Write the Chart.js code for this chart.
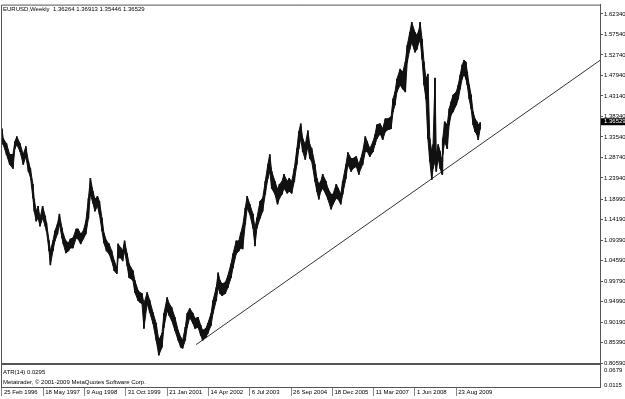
<!DOCTYPE html>
<html>
<head>
<meta charset="utf-8">
<script src="https://cdn.jsdelivr.net/npm/chart.js@4/dist/chart.umd.min.js"></script>
<style>
html,body{margin:0;padding:0;background:#fff;}
canvas{display:block;}
</style>
</head>
<body>
<canvas id="c" width="625" height="399"></canvas>
<script>
// ---- data (weekly bar index since 25 Feb 1996, high/low prices) ----
const weeks = [0,2,7,12,17,20,23,28,33,37,41,44,48,50,53,56,59,63,67,69,73,75,79,82,86,89,93,95,99,103,106,110,115,118,122,126,130,134,137,141,144,148,151,155,158,162,166,170,174,178,180,184,187,190,194,197,200,203,206,211,214,217,220,225,229,234,239,243,248,251,256,259,263,268,273,277,280,284,287,291,296,299,304,308,311,316,319,324,327,332,335,338,341,346,350,355,358,363,367,370,373,377,380,384,389,392,395,400,404,408,412,415,418,423,427,430,434,437,442,445,449,453,457,460,463,466,470,474,477,480,485,488,491,494,497,502,505,510,513,518,521,525,528,533,536,541,544,549,553,556,559,563,566,570,575,578,581,586,590,594,598,603,606,609,612,617,621,625,628,632,635,640,643,646,648,651,654,657,660,663,666,668,671,673,676,679,682,683,686,690,693,696,699,704,707,710,713,716,719,721,724,727,730,733,736,738,741];
const highs = [1.3547,1.3315,1.3199,1.2943,1.2943,1.3245,1.3361,1.3199,1.2943,1.3129,1.2780,1.2617,1.2245,1.1896,1.1617,1.1733,1.1454,1.1733,1.1501,1.1338,1.0920,1.0687,1.0920,1.1152,1.1315,1.1547,1.1222,1.1082,1.0920,1.0873,1.0966,1.0989,1.1199,1.1199,1.1082,1.1152,1.1385,1.1919,1.2385,1.2082,1.1896,1.1966,1.1850,1.1454,1.1105,1.0920,1.0850,1.0687,1.0454,1.0291,1.0850,1.0757,1.0687,1.0920,1.0617,1.0385,1.0291,1.0222,0.9989,0.9757,0.9710,0.9687,0.9454,0.9710,0.9524,0.9245,0.8989,0.8594,0.8757,0.9222,0.9594,0.9454,0.9361,0.9129,0.8826,0.8664,0.8594,0.8896,0.9222,0.9338,0.9222,0.9106,0.9129,0.8943,0.8826,0.8873,0.8989,0.9222,0.9524,0.9826,1.0175,0.9989,0.9919,0.9943,1.0105,1.0385,1.0617,1.0920,1.0920,1.1105,1.1268,1.1687,1.1966,1.1780,1.1547,1.1222,1.1454,1.1850,1.1919,1.2315,1.2710,1.2943,1.2548,1.2315,1.2129,1.2245,1.2315,1.2478,1.2315,1.2385,1.2315,1.2617,1.3082,1.3478,1.3664,1.3315,1.3175,1.3501,1.3175,1.3082,1.2710,1.2385,1.2245,1.2315,1.2478,1.2315,1.2152,1.2013,1.2013,1.2245,1.2152,1.2013,1.2315,1.2710,1.2989,1.2850,1.2850,1.2896,1.2710,1.2850,1.3013,1.3361,1.3245,1.3082,1.3245,1.3408,1.3640,1.3664,1.3547,1.3780,1.3780,1.3826,1.4245,1.4408,1.4710,1.4943,1.4873,1.5106,1.5501,1.5803,1.6036,1.5803,1.5734,1.5850,1.6036,1.5640,1.5106,1.4710,1.4826,1.3315,1.3013,1.3175,1.4733,1.2943,1.3175,1.3013,1.2780,1.3315,1.3710,1.3640,1.4013,1.4175,1.4338,1.4408,1.4571,1.4803,1.5036,1.5152,1.5106,1.4873,1.4571,1.4338,1.3943,1.3780,1.3710,1.3640,1.3691];
const lows = [1.3245,1.3175,1.2943,1.2710,1.2617,1.3082,1.3175,1.3013,1.2710,1.2896,1.2548,1.2431,1.1919,1.1617,1.1385,1.1454,1.1268,1.1454,1.1268,1.1152,1.0687,1.0361,1.0687,1.0920,1.1082,1.1315,1.0989,1.0850,1.0640,1.0687,1.0757,1.0757,1.0989,1.0966,1.0850,1.0966,1.1082,1.1454,1.2013,1.1803,1.1617,1.1733,1.1547,1.1152,1.0873,1.0687,1.0617,1.0454,1.0222,1.0152,1.0524,1.0524,1.0454,1.0687,1.0338,1.0059,1.0036,0.9989,0.9710,0.9524,0.9477,0.9454,0.8873,0.9454,0.9245,0.8989,0.8594,0.8245,0.8431,0.8896,0.9292,0.9175,0.9059,0.8826,0.8594,0.8431,0.8408,0.8594,0.8896,0.9129,0.8989,0.8873,0.8896,0.8710,0.8594,0.8664,0.8757,0.8943,0.9222,0.9524,0.9826,0.9687,0.9640,0.9687,0.9826,1.0059,1.0291,1.0617,1.0687,1.0757,1.0734,1.1315,1.1687,1.1547,1.1222,1.0803,1.1222,1.1454,1.1617,1.2013,1.2385,1.2548,1.2152,1.2013,1.1780,1.1919,1.2013,1.2152,1.2036,1.2082,1.2036,1.2315,1.2710,1.3082,1.3315,1.3013,1.2826,1.3129,1.2850,1.2780,1.2315,1.2082,1.1896,1.2082,1.2152,1.2013,1.1896,1.1664,1.1780,1.1919,1.1896,1.1780,1.2013,1.2385,1.2710,1.2548,1.2617,1.2664,1.2478,1.2617,1.2710,1.3013,1.3013,1.2896,1.3013,1.3175,1.3315,1.3431,1.3292,1.3478,1.3524,1.3547,1.3943,1.4106,1.4408,1.4571,1.4478,1.4408,1.5106,1.5408,1.5571,1.5338,1.5408,1.5571,1.5640,1.5175,1.4571,1.4245,1.3315,1.2780,1.2361,1.2617,1.2780,1.2548,1.2850,1.2617,1.2478,1.2943,1.3245,1.3082,1.3640,1.3873,1.3943,1.4106,1.4245,1.4478,1.4710,1.4826,1.4710,1.4571,1.4245,1.4013,1.3640,1.3478,1.3408,1.3292,1.3545];

const priceTicks = [1.6234,1.5754,1.5274,1.4794,1.4314,1.3834,1.3354,1.2874,1.2394,1.1899,1.1419,1.0939,1.0459,0.9979,0.9499,0.9019,0.8539,0.8059];
const atrTicks = [0.0679, 0.0115];
const dateWeeks = [0,64,128,192,256,320,384,448,512,576,640,704];
const dateLabels = ['25 Feb 1996','18 May 1997','9 Aug 1998','31 Oct 1999','21 Jan 2001','14 Apr 2002','6 Jul 2003','26 Sep 2004','18 Dec 2005','11 Mar 2007','1 Jun 2008','23 Aug 2009'];
const trendWeeks = [301, 927];
const trendPrices = [0.8494, 1.5152];

const symbolName = 'EURUSD,Weekly';
const lastOpen = 1.36264, lastHigh = 1.36913, lastLow = 1.35446, lastClose = 1.36529;
const atrName = 'ATR(14)';
const atrValue = 0.0295;
const copyright = 'Metatrader, \u00A9 2001-2009 MetaQuotes Software Corp.';

// ---- chart ----
const FONT = 'Liberation Sans';
const highData = weeks.map((w, i) => ({x: w, y: highs[i]}));
const lowData = weeks.map((w, i) => ({x: w, y: lows[i]}));
const rangeData = weeks.map((w, i) => ({x: w, y: [lows[i], highs[i]]}));
const trendData = trendWeeks.map((w, i) => ({x: w, y: trendPrices[i]}));

const extras = {
  id: 'extras',
  afterDraw(chart) {
    const {ctx, chartArea: a, scales: {y, atr}} = chart;
    ctx.save();
    ctx.strokeStyle = '#555';
    ctx.lineWidth = 1;
    ctx.beginPath();
    ctx.moveTo(a.left + 0.5, a.bottom);
    ctx.lineTo(a.left + 0.5, a.top + 0.5);
    ctx.lineTo(a.right, a.top + 0.5);
    ctx.stroke();
    ctx.fillStyle = '#555';
    ctx.fillRect(a.left, Math.round(y.bottom) - 1, a.right - a.left, 2);
    ctx.font = '6px "' + FONT + '"';
    ctx.fillStyle = '#000';
    ctx.textBaseline = 'middle';
    ctx.textAlign = 'left';
    const hdr = symbolName + '  ' + [lastOpen, lastHigh, lastLow, lastClose].map(v => v.toFixed(5)).join(' ');
    ctx.fillText(hdr, a.left + 2, a.top + 4.5);
    ctx.fillText(atrName + ' ' + atrValue.toFixed(4), a.left + 2, atr.top + 8);
    ctx.fillText(copyright, a.left + 2, atr.top + 18);
    const py = y.getPixelForValue(lastClose) - 2.5;
    ctx.fillStyle = '#000';
    ctx.fillRect(a.right + 1, py - 3.5, chart.width - a.right - 1, 7);
    ctx.fillStyle = '#fff';
    ctx.fillText(lastClose.toFixed(5), a.right + 4, py);
    ctx.restore();
  }
};

new Chart(document.getElementById('c'), {
  type: 'line',
  data: {
    datasets: [
      {
        type: 'line',
        data: highData,
        borderColor: '#111',
        borderWidth: 1,
        pointRadius: 0,
        tension: 0,
        fill: false,
        xAxisID: 'x',
        yAxisID: 'y'
      },
      {
        type: 'line',
        data: lowData,
        borderColor: '#111',
        borderWidth: 1,
        backgroundColor: '#111',
        pointRadius: 0,
        tension: 0,
        fill: '-1',
        xAxisID: 'x',
        yAxisID: 'y'
      },
      {
        type: 'bar',
        data: rangeData,
        backgroundColor: '#111',
        borderWidth: 0,
        barThickness: 1,
        borderSkipped: false,
        xAxisID: 'x',
        yAxisID: 'y'
      },
      {
        type: 'line',
        data: trendData,
        borderColor: '#333',
        borderWidth: 1,
        pointRadius: 0,
        fill: false,
        tension: 0,
        xAxisID: 'x',
        yAxisID: 'y'
      }
    ]
  },
  options: {
    responsive: false,
    devicePixelRatio: 1,
    animation: false,
    events: [],
    layout: {padding: {top: 2, left: 1, right: 0, bottom: 0}},
    plugins: {legend: {display: false}, tooltip: {enabled: false}, filler: {propagate: false}},
    scales: {
      x: {
        type: 'linear',
        position: 'bottom',
        min: -1.5,
        max: 926.7,
        offset: false,
        afterBuildTicks: s => { s.ticks = dateWeeks.map(v => ({value: v})); },
        afterFit: s => { s.height = 12; },
        grid: {drawOnChartArea: false, drawTicks: true, tickLength: 9, color: '#888', offset: false},
        border: {display: true, color: '#555'},
        ticks: {
          align: 'start', padding: -7, labelOffset: 2, autoSkip: false, maxRotation: 0,
          font: {family: FONT, size: 6}, color: '#000',
          callback: (v, i) => dateLabels[i]
        }
      },
      y: {
        type: 'linear',
        position: 'right',
        stack: 'panels',
        stackWeight: 362,
        min: 0.8035,
        max: 1.6454,
        beginAtZero: false,
        afterBuildTicks: s => { s.ticks = priceTicks.map(v => ({value: v})); },
        afterFit: s => { s.width = 25; },
        grid: {drawOnChartArea: false, drawTicks: true, tickLength: 3, color: '#555'},
        border: {display: true, color: '#555'},
        ticks: {
          padding: 1, autoSkip: false,
          font: {family: FONT, size: 6}, color: '#000',
          callback: v => Number(v).toFixed(5)
        }
      },
      atr: {
        type: 'linear',
        position: 'right',
        stack: 'panels',
        stackWeight: 23,
        min: 0.0034,
        max: 0.0921,
        beginAtZero: false,
        afterBuildTicks: s => { s.ticks = atrTicks.map(v => ({value: v})); },
        afterFit: s => { s.width = 25; },
        grid: {drawOnChartArea: false, drawTicks: true, tickLength: 3, color: 'rgba(0,0,0,0)'},
        border: {display: true, color: '#555'},
        ticks: {
          padding: 1, autoSkip: false,
          font: {family: FONT, size: 6}, color: '#000',
          callback: v => Number(v).toFixed(4)
        }
      }
    }
  },
  plugins: [extras]
});
</script>
</body>
</html>
